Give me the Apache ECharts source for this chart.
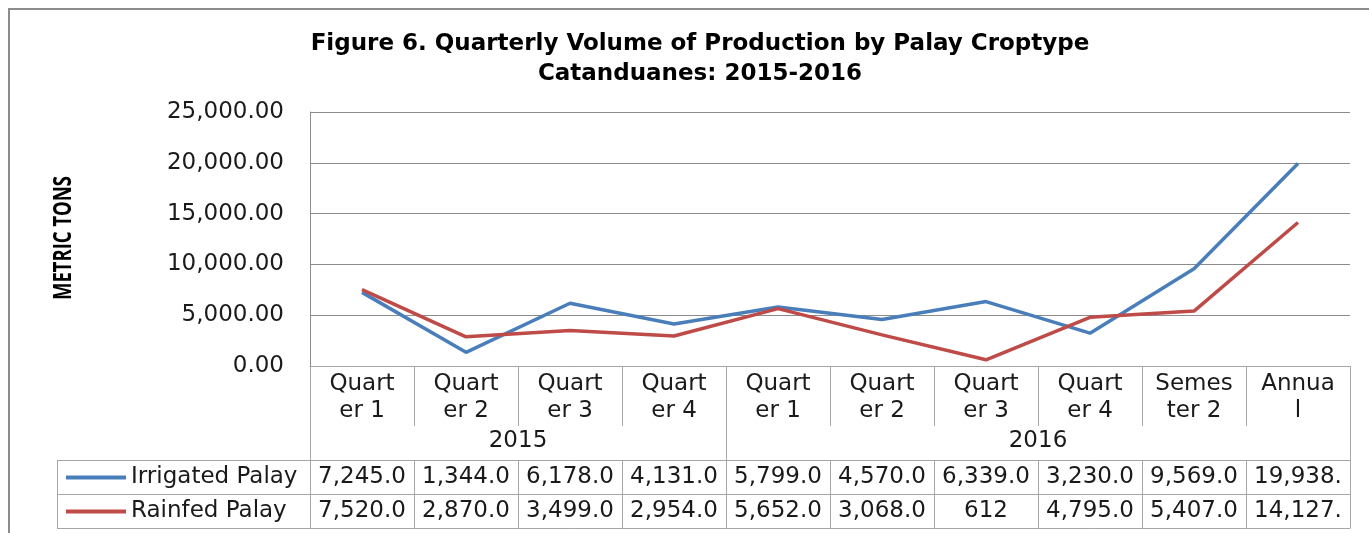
<!DOCTYPE html>
<html>
<head>
<meta charset="utf-8">
<script src="https://cdn.jsdelivr.net/npm/echarts@6/dist/echarts.min.js"></script>
<style>
  html, body { margin: 0; padding: 0; background: #fff; }
  #chart { width: 1369px; height: 533px; }
</style>
</head>
<body>
<div id="chart"></div>
<script>
// categories as printed in the data table header
var categories = ['Quart\ner 1', 'Quart\ner 2', 'Quart\ner 3', 'Quart\ner 4',
  'Quart\ner 1', 'Quart\ner 2', 'Quart\ner 3', 'Quart\ner 4', 'Semes\nter 2', 'Annua\nl'];
var years = ['2015', '2016'];
var yearSpans = [4, 6];

var irrigated = [7245, 1344, 6178, 4131, 5799, 4570, 6339, 3230, 9569, 19938];
var rainfed = [7520, 2870, 3499, 2954, 5652, 3068, 612, 4795, 5407, 14127];

// cell texts as shown in the table
var irrigatedLabels = ['7,245.0', '1,344.0', '6,178.0', '4,131.0', '5,799.0', '4,570.0', '6,339.0', '3,230.0', '9,569.0', '19,938.'];
var rainfedLabels = ['7,520.0', '2,870.0', '3,499.0', '2,954.0', '5,652.0', '3,068.0', '612', '4,795.0', '5,407.0', '14,127.'];

var FONT = 'DejaVu Sans';
var FS = 23;
var tableLine = { color: '#a6a6a6', width: 1 };

// year label / divider positions, built from spans
var yearTicks = [0], yearCenters = [], acc = 0;
yearSpans.forEach(function (s) { yearCenters.push(acc + s / 2); acc += s; yearTicks.push(acc); });

var myChart = echarts.init(document.getElementById('chart'));

function rowAxis(labels, offset, len, margin) {
  return {
    type: 'category', data: categories, gridIndex: 0, position: 'bottom', offset: offset,
    axisLine: { show: true, lineStyle: tableLine },
    axisTick: { show: true, interval: 0, length: len, lineStyle: tableLine },
    axisLabel: {
      interval: 0, margin: margin, fontFamily: FONT, fontSize: FS, color: '#1a1a1a',
      formatter: function (v, i) { return labels[i]; }
    },
    splitLine: { show: false }
  };
}

var option = {
  animation: false,
  title: {
    text: 'Figure 6. Quarterly Volume of Production by Palay Croptype\nCatanduanes: 2015-2016',
    left: 695, top: 24, textAlign: 'center',
    textStyle: { fontFamily: FONT, fontWeight: 'bold', fontSize: 23, lineHeight: 30, color: '#000' }
  },
  legend: {
    data: ['Irrigated Palay', 'Rainfed Palay'],
    orient: 'vertical', left: 61, top: 461, icon: 'rect', itemWidth: 60, itemHeight: 4, itemGap: 11,
    textStyle: { fontFamily: FONT, fontSize: FS, color: '#1a1a1a' }
  },
  grid: { left: 310, right: 19, top: 112, bottom: 167 },
  xAxis: [
    {
      type: 'category', data: categories, gridIndex: 0,
      axisLine: { show: true, lineStyle: tableLine },
      axisTick: { show: true, interval: 0, length: 60, lineStyle: tableLine },
      axisLabel: { interval: 0, margin: 5, fontFamily: FONT, fontSize: FS, lineHeight: 27, color: '#1a1a1a' }
    },
    {
      type: 'value', min: 0, max: categories.length, gridIndex: 0, position: 'bottom', offset: 60,
      axisLine: { show: false },
      axisTick: { show: true, customValues: yearTicks, length: 34, lineStyle: tableLine },
      axisLabel: {
        customValues: yearCenters, margin: 4, fontFamily: FONT, fontSize: FS, color: '#1a1a1a',
        formatter: function (v) { return years[yearCenters.indexOf(v)]; }
      },
      splitLine: { show: false }
    },
    rowAxis(irrigatedLabels, 94, 34, 6),
    rowAxis(rainfedLabels, 128, 34, 6),
    {
      type: 'category', data: categories, gridIndex: 0, position: 'bottom', offset: 162,
      axisLine: { show: true, lineStyle: tableLine },
      axisTick: { show: false }, axisLabel: { show: false }
    }
  ],
  yAxis: {
    type: 'value', min: 0, max: 25000, interval: 5000,
    axisLine: { show: true, lineStyle: { color: '#8c8c8c' } },
    axisTick: { show: false },
    axisLabel: {
      margin: 26, fontFamily: FONT, fontSize: FS, color: '#1a1a1a',
      formatter: function (v) {
        return v.toLocaleString('en-US', { minimumFractionDigits: 2, maximumFractionDigits: 2 });
      }
    },
    splitLine: { show: true, lineStyle: { color: '#8c8c8c', width: 1 } }
  },
  series: [
    {
      name: 'Irrigated Palay', type: 'line', data: irrigated, symbol: 'none',
      itemStyle: { color: '#4a7ebb' }, lineStyle: { color: '#4a7ebb', width: 3.5 }
    },
    {
      name: 'Rainfed Palay', type: 'line', data: rainfed, symbol: 'none',
      itemStyle: { color: '#be4b48' }, lineStyle: { color: '#be4b48', width: 3.5 }
    }
  ],
  graphic: [
    // outer chart frame
    { type: 'rect', shape: { x: 9, y: 9, width: 1400, height: 600 }, style: { fill: 'none', stroke: '#8c8c8c', lineWidth: 2 } },
    // y axis title, condensed like the original
    {
      type: 'text', x: 64, y: 238, rotation: Math.PI / 2, scaleX: 0.74, scaleY: 1,
      style: { text: 'METRIC TONS', fontFamily: 'Open Sans', fontWeight: 'bold', fontSize: 25, fill: '#000', align: 'center', verticalAlign: 'middle' }
    },
    // legend column of the data table
    { type: 'line', shape: { x1: 57, y1: 460.5, x2: 310, y2: 460.5 }, style: { stroke: '#a6a6a6', lineWidth: 1 } },
    { type: 'line', shape: { x1: 57, y1: 494.5, x2: 310, y2: 494.5 }, style: { stroke: '#a6a6a6', lineWidth: 1 } },
    { type: 'line', shape: { x1: 57, y1: 528.5, x2: 310, y2: 528.5 }, style: { stroke: '#a6a6a6', lineWidth: 1 } },
    { type: 'line', shape: { x1: 57.5, y1: 460, x2: 57.5, y2: 529 }, style: { stroke: '#a6a6a6', lineWidth: 1 } }
  ]
};

myChart.setOption(option);
</script>
</body>
</html>
